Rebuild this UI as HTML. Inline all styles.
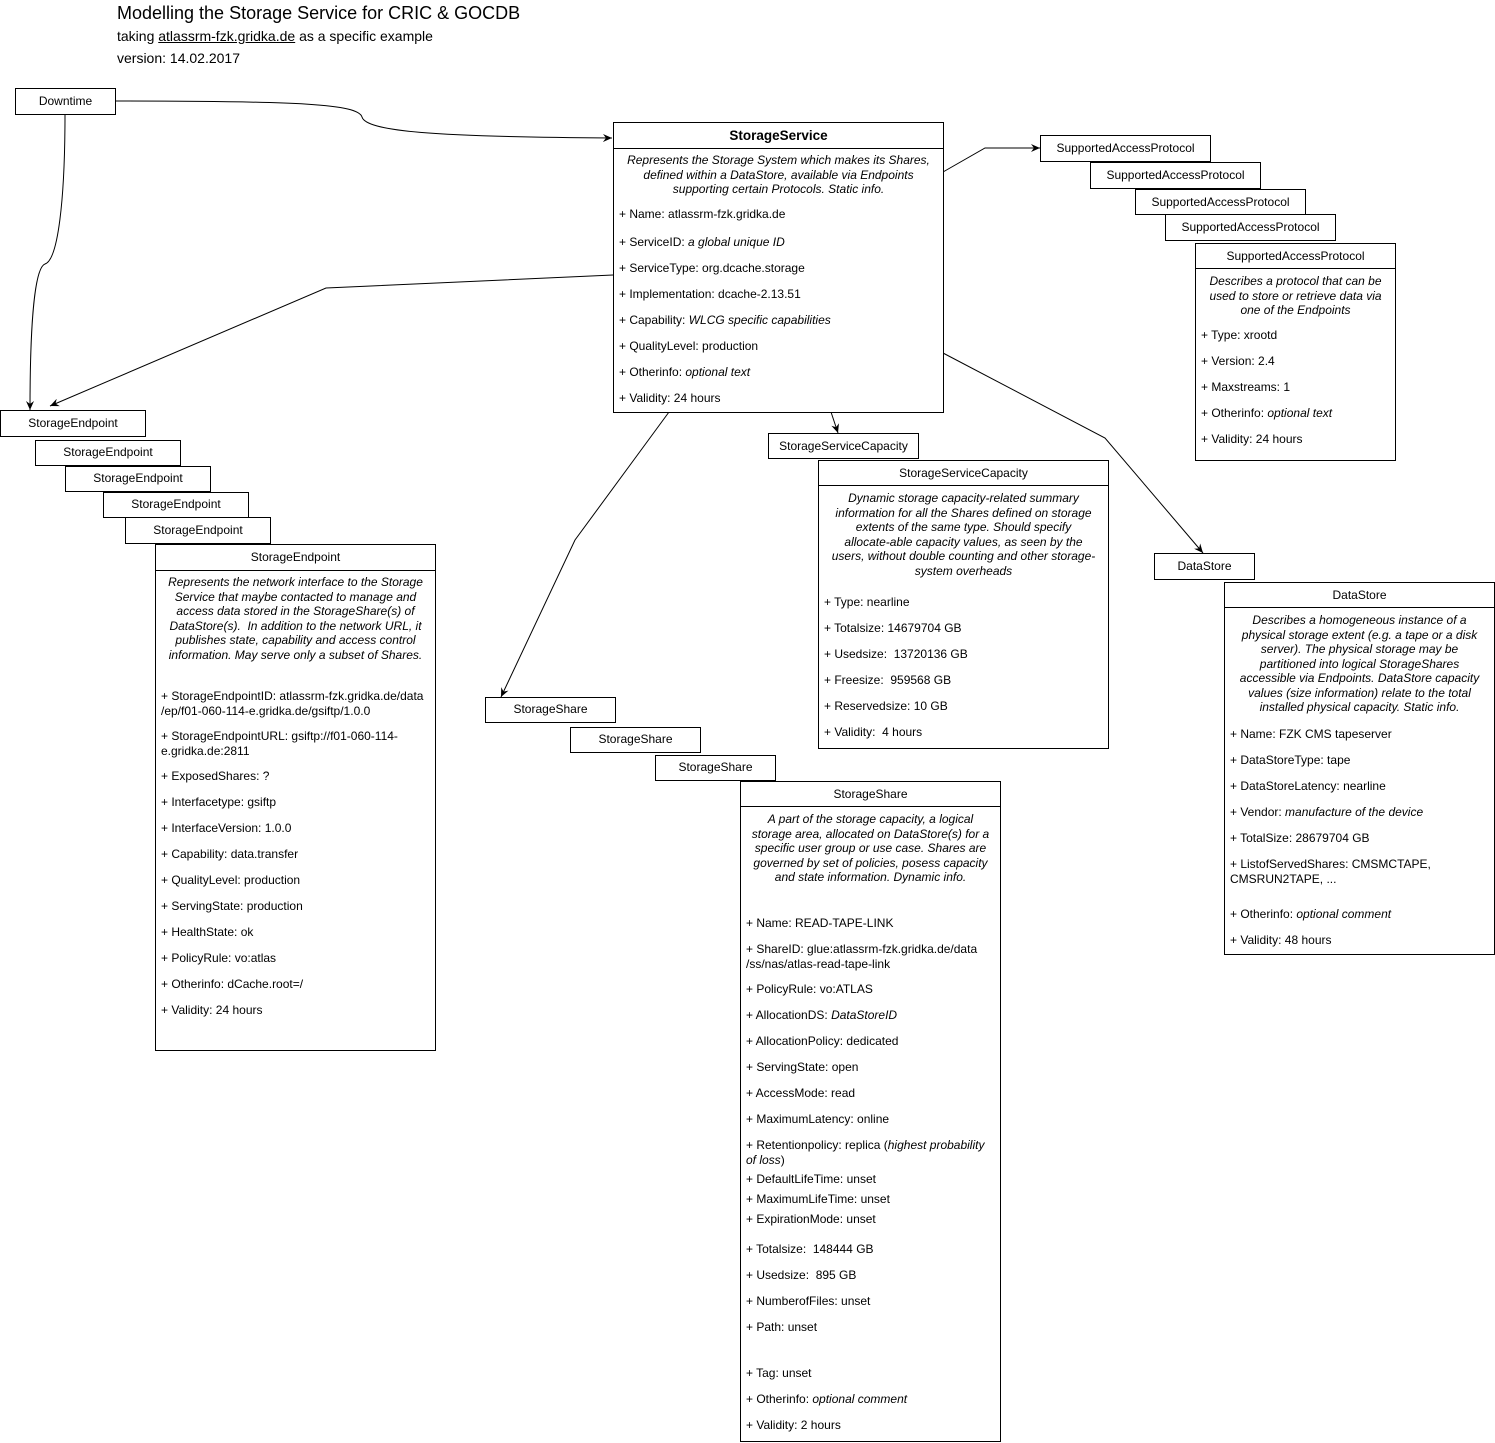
<!DOCTYPE html>
<html><head><meta charset="utf-8"><style>
body{margin:0;width:1495px;height:1443px;background:#fff;position:relative;font-family:"Liberation Sans",Arial,sans-serif;color:#000;overflow:hidden}
.b{position:absolute;border:1px solid #000;background:#fff;box-sizing:border-box}
.h{position:absolute;font-size:12px;line-height:14px;text-align:center;white-space:nowrap;margin-top:1px}
.t{position:absolute;font-size:12px;line-height:14px;white-space:nowrap;margin-top:1px}
.d{position:absolute;font-size:12px;line-height:14.5px;text-align:center;font-style:italic;white-space:nowrap;margin-top:1px}
.hl{position:absolute;height:1px;background:#000}
i{font-style:italic}
</style></head><body>
<svg width="1495" height="1443" style="position:absolute;left:0;top:0">
<defs><marker id="a" markerWidth="10" markerHeight="10" refX="9" refY="5" orient="auto" markerUnits="userSpaceOnUse"><path d="M0,1 L9,5 L0,9 L3,5 z" fill="#000"/></marker></defs>
<g fill="none" stroke="#000" stroke-width="1">
<path d="M115,101 C300,101 358,104 362,117 C366,131 430,137 612,138" marker-end="url(#a)"/>
<path d="M65,114 C65,200 58,260 45,264 C34,268 30,330 30,410" marker-end="url(#a)"/>
<path d="M613,275 L326,288 L50,406" marker-end="url(#a)"/>
<path d="M943,172 L985,148 L1040,148" marker-end="url(#a)"/>
<path d="M831,412 L838,433" marker-end="url(#a)"/>
<path d="M669,412 L575,540 L501,697" marker-end="url(#a)"/>
<path d="M943,353 L1105,438 L1203,553" marker-end="url(#a)"/>
</g></svg>

<div class="t" style="left:117px;top:2px;font-size:18px;line-height:20px">Modelling the Storage Service for CRIC &amp; GOCDB</div>
<div class="t" style="left:117px;top:27px;font-size:14px;line-height:16px">taking <u>atlassrm-fzk.gridka.de</u> as a specific example</div>
<div class="t" style="left:117px;top:49px;font-size:14px;line-height:16px">version: 14.02.2017</div>

<!-- Downtime -->
<div class="b" style="left:15px;top:88px;width:101px;height:27px"></div>
<div class="h" style="left:15px;top:93px;width:101px">Downtime</div>

<!-- StorageService -->
<div class="b" style="left:613px;top:122px;width:331px;height:291px"></div>
<div class="hl" style="left:613px;top:148px;width:331px"></div>
<div class="h" style="left:613px;top:127px;width:331px;font-weight:bold;font-size:13.5px;line-height:16px">StorageService</div>
<div class="d" style="left:613px;top:152px;width:331px">Represents the Storage System which makes its Shares,<br>defined within a DataStore, available via Endpoints<br>supporting certain Protocols. Static info.</div>
<div class="t" style="left:619px;top:206px">+ Name: atlassrm-fzk.gridka.de</div>
<div class="t" style="left:619px;top:234px">+ ServiceID: <i>a global unique ID</i></div>
<div class="t" style="left:619px;top:260px">+ ServiceType: org.dcache.storage</div>
<div class="t" style="left:619px;top:286px">+ Implementation: dcache-2.13.51</div>
<div class="t" style="left:619px;top:312px">+ Capability: <i>WLCG specific capabilities</i></div>
<div class="t" style="left:619px;top:338px">+ QualityLevel: production</div>
<div class="t" style="left:619px;top:364px">+ Otherinfo: <i>optional text</i></div>
<div class="t" style="left:619px;top:390px">+ Validity: 24 hours</div>

<!-- SupportedAccessProtocol -->
<div class="b" style="left:1040px;top:135px;width:171px;height:27px"></div><div class="h" style="left:1040px;top:140px;width:171px">SupportedAccessProtocol</div>
<div class="b" style="left:1090px;top:162px;width:171px;height:27px"></div><div class="h" style="left:1090px;top:167px;width:171px">SupportedAccessProtocol</div>
<div class="b" style="left:1135px;top:189px;width:171px;height:26px"></div><div class="h" style="left:1135px;top:194px;width:171px">SupportedAccessProtocol</div>
<div class="b" style="left:1165px;top:214px;width:171px;height:27px"></div><div class="h" style="left:1165px;top:219px;width:171px">SupportedAccessProtocol</div>
<div class="b" style="left:1195px;top:243px;width:201px;height:218px"></div>
<div class="hl" style="left:1195px;top:268px;width:201px"></div>
<div class="h" style="left:1195px;top:248px;width:201px">SupportedAccessProtocol</div>
<div class="d" style="left:1195px;top:273px;width:201px">Describes a protocol that can be<br>used to store or retrieve data via<br>one of the Endpoints</div>
<div class="t" style="left:1201px;top:327px">+ Type: xrootd</div>
<div class="t" style="left:1201px;top:353px">+ Version: 2.4</div>
<div class="t" style="left:1201px;top:379px">+ Maxstreams: 1</div>
<div class="t" style="left:1201px;top:405px">+ Otherinfo: <i>optional text</i></div>
<div class="t" style="left:1201px;top:431px">+ Validity: 24 hours</div>

<!-- StorageEndpoint -->
<div class="b" style="left:0px;top:410px;width:146px;height:27px"></div><div class="h" style="left:0px;top:415px;width:146px">StorageEndpoint</div>
<div class="b" style="left:35px;top:440px;width:146px;height:26px"></div><div class="h" style="left:35px;top:444px;width:146px">StorageEndpoint</div>
<div class="b" style="left:65px;top:466px;width:146px;height:26px"></div><div class="h" style="left:65px;top:470px;width:146px">StorageEndpoint</div>
<div class="b" style="left:103px;top:492px;width:146px;height:26px"></div><div class="h" style="left:103px;top:496px;width:146px">StorageEndpoint</div>
<div class="b" style="left:125px;top:517px;width:146px;height:27px"></div><div class="h" style="left:125px;top:522px;width:146px">StorageEndpoint</div>
<div class="b" style="left:155px;top:544px;width:281px;height:507px"></div>
<div class="hl" style="left:155px;top:570px;width:281px"></div>
<div class="h" style="left:155px;top:549px;width:281px">StorageEndpoint</div>
<div class="d" style="left:155px;top:574px;width:281px">Represents the network interface to the Storage<br>Service that maybe contacted to manage and<br>access data stored in the StorageShare(s) of<br>DataStore(s).&nbsp; In addition to the network URL, it<br>publishes state, capability and access control<br>information. May serve only a subset of Shares.</div>
<div class="t" style="left:161px;top:688px;line-height:15px">+ StorageEndpointID: atlassrm-fzk.gridka.de/data<br>/ep/f01-060-114-e.gridka.de/gsiftp/1.0.0</div>
<div class="t" style="left:161px;top:728px;line-height:15px">+ StorageEndpointURL: gsiftp://f01-060-114-<br>e.gridka.de:2811</div>
<div class="t" style="left:161px;top:768px">+ ExposedShares: ?</div>
<div class="t" style="left:161px;top:794px">+ Interfacetype: gsiftp</div>
<div class="t" style="left:161px;top:820px">+ InterfaceVersion: 1.0.0</div>
<div class="t" style="left:161px;top:846px">+ Capability: data.transfer</div>
<div class="t" style="left:161px;top:872px">+ QualityLevel: production</div>
<div class="t" style="left:161px;top:898px">+ ServingState: production</div>
<div class="t" style="left:161px;top:924px">+ HealthState: ok</div>
<div class="t" style="left:161px;top:950px">+ PolicyRule: vo:atlas</div>
<div class="t" style="left:161px;top:976px">+ Otherinfo: dCache.root=/</div>
<div class="t" style="left:161px;top:1002px">+ Validity: 24 hours</div>

<!-- StorageServiceCapacity -->
<div class="b" style="left:768px;top:433px;width:151px;height:26px"></div><div class="h" style="left:768px;top:438px;width:151px">StorageServiceCapacity</div>
<div class="b" style="left:818px;top:460px;width:291px;height:289px"></div>
<div class="hl" style="left:818px;top:485px;width:291px"></div>
<div class="h" style="left:818px;top:465px;width:291px">StorageServiceCapacity</div>
<div class="d" style="left:818px;top:490px;width:291px">Dynamic storage capacity-related summary<br>information for all the Shares defined on storage<br>extents of the same type. Should specify<br>allocate-able capacity values, as seen by the<br>users, without double counting and other storage-<br>system overheads</div>
<div class="t" style="left:824px;top:594px">+ Type: nearline</div>
<div class="t" style="left:824px;top:620px">+ Totalsize: 14679704 GB</div>
<div class="t" style="left:824px;top:646px">+ Usedsize:&nbsp; 13720136 GB</div>
<div class="t" style="left:824px;top:672px">+ Freesize:&nbsp; 959568 GB</div>
<div class="t" style="left:824px;top:698px">+ Reservedsize: 10 GB</div>
<div class="t" style="left:824px;top:724px">+ Validity:&nbsp; 4 hours</div>

<!-- DataStore -->
<div class="b" style="left:1154px;top:553px;width:101px;height:27px"></div><div class="h" style="left:1154px;top:558px;width:101px">DataStore</div>
<div class="b" style="left:1224px;top:582px;width:271px;height:373px"></div>
<div class="hl" style="left:1224px;top:607px;width:271px"></div>
<div class="h" style="left:1224px;top:587px;width:271px">DataStore</div>
<div class="d" style="left:1224px;top:612px;width:271px">Describes a homogeneous instance of a<br>physical storage extent (e.g. a tape or a disk<br>server). The physical storage may be<br>partitioned into logical StorageShares<br>accessible via Endpoints. DataStore capacity<br>values (size information) relate to the total<br>installed physical capacity. Static info.</div>
<div class="t" style="left:1230px;top:726px">+ Name: FZK CMS tapeserver</div>
<div class="t" style="left:1230px;top:752px">+ DataStoreType: tape</div>
<div class="t" style="left:1230px;top:778px">+ DataStoreLatency: nearline</div>
<div class="t" style="left:1230px;top:804px">+ Vendor: <i>manufacture of the device</i></div>
<div class="t" style="left:1230px;top:830px">+ TotalSize: 28679704 GB</div>
<div class="t" style="left:1230px;top:856px;line-height:15px">+ ListofServedShares: CMSMCTAPE,<br>CMSRUN2TAPE, ...</div>
<div class="t" style="left:1230px;top:906px">+ Otherinfo: <i>optional comment</i></div>
<div class="t" style="left:1230px;top:932px">+ Validity: 48 hours</div>

<!-- StorageShare -->
<div class="b" style="left:485px;top:697px;width:131px;height:26px"></div><div class="h" style="left:485px;top:701px;width:131px">StorageShare</div>
<div class="b" style="left:570px;top:727px;width:131px;height:26px"></div><div class="h" style="left:570px;top:731px;width:131px">StorageShare</div>
<div class="b" style="left:655px;top:755px;width:121px;height:26px"></div><div class="h" style="left:655px;top:759px;width:121px">StorageShare</div>
<div class="b" style="left:740px;top:781px;width:261px;height:661px"></div>
<div class="hl" style="left:740px;top:806px;width:261px"></div>
<div class="h" style="left:740px;top:786px;width:261px">StorageShare</div>
<div class="d" style="left:740px;top:811px;width:261px">A part of the storage capacity, a logical<br>storage area, allocated on DataStore(s) for a<br>specific user group or use case. Shares are<br>governed by set of policies, posess capacity<br>and state information. Dynamic info.</div>
<div class="t" style="left:746px;top:915px">+ Name: READ-TAPE-LINK</div>
<div class="t" style="left:746px;top:941px;line-height:15px">+ ShareID: glue:atlassrm-fzk.gridka.de/data<br>/ss/nas/atlas-read-tape-link</div>
<div class="t" style="left:746px;top:981px">+ PolicyRule: vo:ATLAS</div>
<div class="t" style="left:746px;top:1007px">+ AllocationDS: <i>DataStoreID</i></div>
<div class="t" style="left:746px;top:1033px">+ AllocationPolicy: dedicated</div>
<div class="t" style="left:746px;top:1059px">+ ServingState: open</div>
<div class="t" style="left:746px;top:1085px">+ AccessMode: read</div>
<div class="t" style="left:746px;top:1111px">+ MaximumLatency: online</div>
<div class="t" style="left:746px;top:1137px;line-height:15px">+ Retentionpolicy: replica (<i>highest probability</i><br><i>of loss</i>)</div>
<div class="t" style="left:746px;top:1171px">+ DefaultLifeTime: unset</div>
<div class="t" style="left:746px;top:1191px">+ MaximumLifeTime: unset</div>
<div class="t" style="left:746px;top:1211px">+ ExpirationMode: unset</div>
<div class="t" style="left:746px;top:1241px">+ Totalsize:&nbsp; 148444 GB</div>
<div class="t" style="left:746px;top:1267px">+ Usedsize:&nbsp; 895 GB</div>
<div class="t" style="left:746px;top:1293px">+ NumberofFiles: unset</div>
<div class="t" style="left:746px;top:1319px">+ Path: unset</div>
<div class="t" style="left:746px;top:1365px">+ Tag: unset</div>
<div class="t" style="left:746px;top:1391px">+ Otherinfo: <i>optional comment</i></div>
<div class="t" style="left:746px;top:1417px">+ Validity: 2 hours</div>
</body></html>
